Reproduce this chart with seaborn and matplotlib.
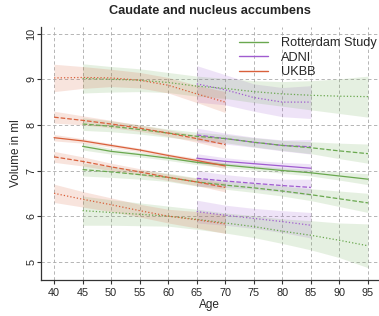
import numpy as np
import pandas as pd
import matplotlib
matplotlib.use("Agg")
import matplotlib.pyplot as plt
import seaborn as sns

# Rotterdam Study (age 45-95)
rs_age = [45, 50, 55, 60, 65, 70, 75, 80, 85, 90, 95]
rs_p2 = [9.02, 9.00, 8.98, 8.93, 8.85, 8.80, 8.73, 8.68, 8.65, 8.63, 8.62]
rs_p1 = [8.02, 7.97, 7.90, 7.82, 7.75, 7.70, 7.62, 7.55, 7.50, 7.43, 7.37]
rs_mid = [7.53, 7.42, 7.35, 7.27, 7.18, 7.12, 7.06, 7.00, 6.95, 6.88, 6.81]
rs_m1 = [7.02, 6.97, 6.91, 6.85, 6.75, 6.68, 6.62, 6.55, 6.47, 6.38, 6.29]
rs_m2 = [6.12, 6.08, 6.04, 6.00, 5.93, 5.85, 5.77, 5.67, 5.58, 5.47, 5.35]
rs_p2_ci = [0.32, 0.28, 0.25, 0.22, 0.22, 0.22, 0.24, 0.27, 0.32, 0.38, 0.45]
rs_p1_ci = [0.14, 0.12, 0.10, 0.09, 0.09, 0.09, 0.10, 0.11, 0.13, 0.17, 0.21]
rs_mid_ci = [0.08, 0.06, 0.05, 0.05, 0.05, 0.05, 0.05, 0.06, 0.07, 0.09, 0.12]
rs_m1_ci = [0.14, 0.12, 0.10, 0.09, 0.09, 0.09, 0.10, 0.11, 0.13, 0.17, 0.21]
rs_m2_ci = [0.32, 0.28, 0.25, 0.22, 0.22, 0.22, 0.24, 0.27, 0.32, 0.38, 0.48]

# ADNI (age 65-85)
adni_age = [65, 70, 75, 80, 85]
adni_p2 = [8.90, 8.77, 8.60, 8.50, 8.50]
adni_p1 = [7.78, 7.70, 7.62, 7.55, 7.52]
adni_mid = [7.27, 7.20, 7.15, 7.10, 7.05]
adni_m1 = [6.83, 6.77, 6.72, 6.67, 6.63]
adni_m2 = [6.10, 6.02, 5.95, 5.88, 5.80]
adni_p2_ci = [0.40, 0.33, 0.30, 0.32, 0.36]
adni_p1_ci = [0.15, 0.12, 0.11, 0.12, 0.16]
adni_mid_ci = [0.10, 0.08, 0.07, 0.08, 0.10]
adni_m1_ci = [0.17, 0.14, 0.13, 0.14, 0.18]
adni_m2_ci = [0.25, 0.22, 0.22, 0.24, 0.28]

# UKBB (age 40-70)
uk_age = [40, 45, 50, 55, 60, 65, 70]
uk_p2 = [9.03, 9.04, 9.03, 8.98, 8.87, 8.68, 8.50]
uk_p1 = [8.17, 8.10, 8.02, 7.93, 7.82, 7.70, 7.57]
uk_mid = [7.72, 7.65, 7.55, 7.45, 7.33, 7.22, 7.10]
uk_m1 = [7.30, 7.20, 7.08, 6.97, 6.85, 6.75, 6.63]
uk_m2 = [6.50, 6.37, 6.25, 6.12, 6.00, 5.92, 5.83]
uk_p2_ci = [0.30, 0.24, 0.19, 0.17, 0.17, 0.19, 0.23]
uk_p1_ci = [0.13, 0.10, 0.08, 0.07, 0.07, 0.08, 0.10]
uk_mid_ci = [0.07, 0.05, 0.04, 0.04, 0.04, 0.05, 0.06]
uk_m1_ci = [0.12, 0.10, 0.08, 0.07, 0.07, 0.08, 0.10]
uk_m2_ci = [0.20, 0.17, 0.15, 0.14, 0.15, 0.18, 0.21]

colors = {"Rotterdam Study": "#6aa84f", "ADNI": "#a05cd0", "UKBB": "#d9603b"}
styles = {"p2": ":", "p1": "--", "mid": "-", "m1": "--", "m2": ":"}

studies = {
    "Rotterdam Study": (rs_age, {"p2": (rs_p2, rs_p2_ci), "p1": (rs_p1, rs_p1_ci),
                                 "mid": (rs_mid, rs_mid_ci), "m1": (rs_m1, rs_m1_ci),
                                 "m2": (rs_m2, rs_m2_ci)}),
    "ADNI": (adni_age, {"p2": (adni_p2, adni_p2_ci), "p1": (adni_p1, adni_p1_ci),
                        "mid": (adni_mid, adni_mid_ci), "m1": (adni_m1, adni_m1_ci),
                        "m2": (adni_m2, adni_m2_ci)}),
    "UKBB": (uk_age, {"p2": (uk_p2, uk_p2_ci), "p1": (uk_p1, uk_p1_ci),
                      "mid": (uk_mid, uk_mid_ci), "m1": (uk_m1, uk_m1_ci),
                      "m2": (uk_m2, uk_m2_ci)}),
}

rows = []
for study, (ages, curves) in studies.items():
    for curve, (vals, ci) in curves.items():
        for a, v, c in zip(ages, vals, ci):
            rows.append({"study": study, "curve": curve, "age": a, "vol": v,
                         "lo": v - c, "hi": v + c})
df = pd.DataFrame(rows)

sns.set_style("white")
plt.rcParams["font.family"] = ["Liberation Sans", "DejaVu Sans"]

fig = plt.figure(figsize=(3.79, 3.16), dpi=100)
ax = fig.add_axes([0.108, 0.114, 0.89, 0.801])

# confidence bands
for (study, curve), g in df.groupby(["study", "curve"]):
    ax.fill_between(g["age"], g["lo"], g["hi"], color=colors[study], alpha=0.17, lw=0)

# curves
for (study, curve), g in df.groupby(["study", "curve"]):
    sns.lineplot(data=g, x="age", y="vol", ax=ax, color=colors[study],
                 linestyle=styles[curve], lw=0.9, legend=False)

for study in ["Rotterdam Study", "ADNI", "UKBB"]:
    ax.plot([], [], color=colors[study], lw=1.0, label=study)

ax.set_xlim(37.7, 96.8)
ax.set_ylim(4.6, 10.15)
ax.set_xticks(range(40, 96, 5))
ax.set_yticks([5, 6, 7, 8, 9, 10])
ax.grid(True, linestyle=(0, (4, 3)), color="#aaaaaa", lw=0.6)
for lab in ax.get_yticklabels():
    lab.set_rotation(90)
    lab.set_va("center")
ax.tick_params(axis="both", direction="out", length=3, width=0.8, labelsize=7.8,
               pad=2.5, left=True, bottom=True, color="#333333")
ax.tick_params(axis="y", pad=0.3)
for s in ["top", "right"]:
    ax.spines[s].set_visible(False)
for s in ["left", "bottom"]:
    ax.spines[s].set_color("#333333")
    ax.spines[s].set_linewidth(0.9)

ax.set_xlabel("Age", fontsize=8.5, labelpad=1)
ax.set_ylabel("Volume in ml", fontsize=8.5, labelpad=3)
ax.set_title("Caudate and nucleus accumbens", fontsize=9.2, fontweight="bold", pad=9)

ax.legend(loc="upper right", frameon=False, fontsize=9.2, handlelength=2.3,
          labelspacing=0.2, borderaxespad=0.0, handletextpad=1.0,
          bbox_to_anchor=(1.01, 0.98))

fig.savefig("out.png", dpi=100)
